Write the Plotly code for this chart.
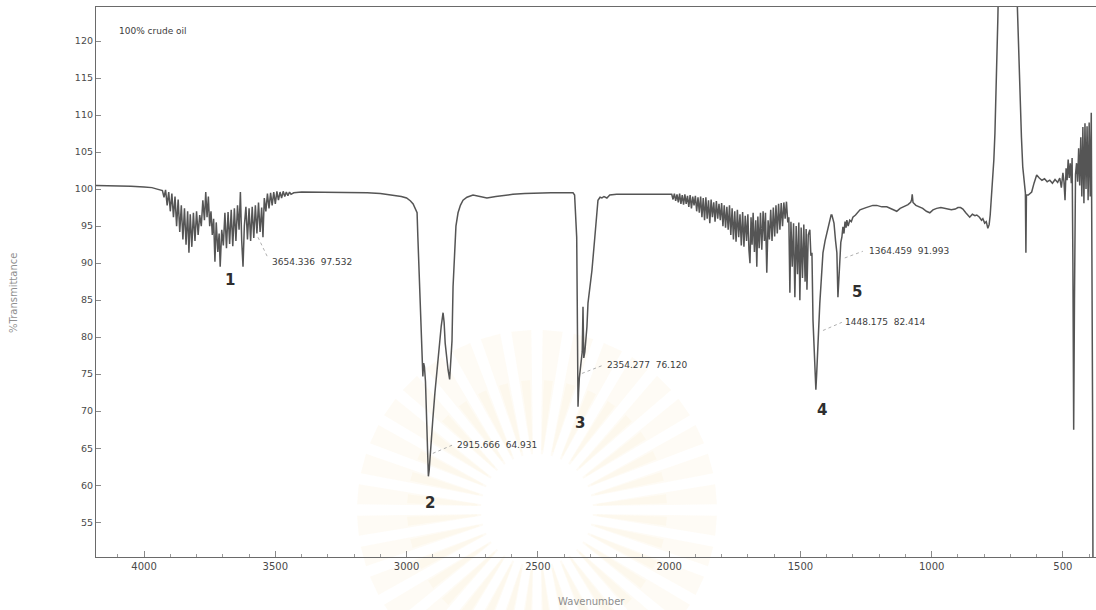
import math
import plotly.graph_objects as go

# ---------------- data (wavenumber, %T) ----------------
seg_baseline = [(4185, 100.5), (4150, 100.5), (4100, 100.4), (4050, 100.4), (4000, 100.3),
                (3970, 100.2), (3950, 100.0), (3936, 99.9)]

seg_water = [(3930, 99.8), (3924, 98.9), (3918, 99.9), (3912, 97.8), (3906, 99.6), (3900, 97.0),
             (3894, 99.4), (3888, 96.2), (3882, 99.0), (3876, 95.0), (3870, 98.6), (3864, 94.2),
             (3858, 97.8), (3852, 93.2), (3846, 97.4), (3840, 92.5), (3834, 97.0), (3829, 91.4),
             (3824, 96.6), (3818, 92.2), (3812, 96.8), (3806, 93.0), (3800, 97.0), (3794, 93.8),
             (3788, 96.5), (3782, 95.0), (3776, 98.5), (3770, 95.8), (3765, 99.6), (3760, 96.2),
             (3755, 99.0), (3750, 95.0), (3745, 97.0), (3740, 93.8), (3735, 96.0), (3730, 90.2),
             (3725, 95.5), (3719, 91.5), (3714, 94.0), (3710, 89.5), (3704, 94.5), (3698, 92.4),
             (3692, 96.8), (3686, 92.0), (3680, 96.9), (3674, 92.6), (3668, 97.2), (3662, 92.3),
             (3656, 97.4), (3650, 93.0), (3644, 97.8), (3638, 94.5), (3633, 99.6), (3628, 93.0),
             (3623, 89.5), (3618, 95.0), (3612, 97.6), (3606, 93.2), (3600, 97.4), (3594, 93.0),
             (3588, 97.6), (3582, 93.4), (3576, 97.8), (3570, 94.0), (3564, 98.2), (3558, 94.2),
             (3552, 97.5), (3547, 93.5), (3542, 98.8), (3536, 97.0), (3530, 99.4), (3524, 97.4),
             (3518, 99.5), (3512, 97.8), (3506, 99.6), (3500, 98.0), (3494, 99.7), (3488, 98.5),
             (3482, 99.6), (3476, 98.8), (3470, 99.7), (3464, 99.0), (3458, 99.6), (3452, 99.1),
             (3446, 99.6), (3440, 99.3)]

seg_ch = [(3430, 99.5), (3400, 99.6), (3350, 99.6), (3300, 99.6), (3250, 99.6), (3200, 99.5),
          (3150, 99.5), (3100, 99.4), (3050, 99.2), (3020, 99.0), (3000, 98.8), (2985, 98.4),
          (2975, 98.0), (2965, 97.2), (2960, 96.8), (2957, 93.5), (2953, 89.0), (2949, 84.6),
          (2945, 80.0), (2941, 76.0), (2938, 74.7), (2935, 76.5), (2932, 76.0), (2928, 74.0),
          (2924, 70.0), (2920, 64.5), (2917, 61.2), (2914, 62.0), (2911, 63.5), (2907, 66.5),
          (2900, 68.9), (2892, 72.5), (2884, 75.6), (2876, 79.0), (2868, 81.5), (2861, 83.3),
          (2857, 82.0), (2853, 79.2), (2847, 77.0), (2842, 75.6), (2836, 74.3), (2831, 76.5),
          (2827, 79.5), (2823, 86.8), (2818, 91.5), (2812, 95.0), (2804, 96.8), (2795, 97.8),
          (2785, 98.5), (2770, 98.9), (2747, 99.2), (2720, 99.0), (2694, 98.8), (2660, 99.0),
          (2620, 99.2), (2595, 99.3), (2550, 99.4), (2500, 99.5), (2450, 99.5), (2400, 99.5),
          (2370, 99.5)]

seg_co2 = [(2366, 99.5), (2360, 99.2), (2355, 96.5), (2352, 93.5), (2350, 85.0), (2348, 74.0),
           (2347, 70.6), (2345, 72.5), (2342, 74.5), (2339, 75.6), (2335, 76.5), (2331, 78.0),
           (2328, 84.1), (2325, 77.2), (2321, 78.0), (2317, 79.5), (2313, 81.4), (2309, 84.6),
           (2300, 87.5), (2294, 89.0), (2283, 93.5), (2277, 96.0), (2271, 98.5), (2263, 98.9),
           (2256, 98.8), (2248, 99.0), (2237, 98.8), (2226, 99.2), (2200, 99.3), (2150, 99.3),
           (2100, 99.3), (2050, 99.3), (2000, 99.2)]

seg_fingerprint = [(1990, 99.3), (1985, 98.6), (1980, 99.4), (1975, 98.4), (1970, 99.3), (1965, 98.2),
                   (1960, 99.4), (1955, 98.0), (1950, 99.2), (1945, 97.9), (1940, 99.3), (1935, 98.0),
                   (1930, 99.1), (1925, 97.6), (1920, 99.2), (1915, 97.4), (1910, 99.0), (1905, 97.8),
                   (1900, 99.1), (1895, 97.0), (1890, 98.9), (1885, 96.8), (1880, 99.0), (1875, 96.2),
                   (1870, 98.8), (1865, 95.8), (1860, 98.9), (1855, 96.0), (1850, 98.5), (1845, 95.4),
                   (1840, 98.6), (1835, 96.2), (1830, 98.2), (1825, 95.6), (1820, 98.4), (1815, 96.0),
                   (1810, 98.0), (1805, 95.8), (1800, 98.1), (1795, 95.0), (1790, 97.8), (1785, 94.8),
                   (1780, 97.6), (1775, 94.5), (1770, 97.8), (1765, 93.8), (1760, 97.4), (1755, 93.2),
                   (1750, 97.0), (1745, 92.9), (1740, 97.2), (1735, 93.5), (1730, 96.6), (1725, 92.4),
                   (1720, 96.9), (1715, 92.2), (1710, 96.4), (1705, 93.0), (1700, 96.6), (1696, 91.8),
                   (1692, 90.0), (1688, 96.2), (1684, 92.5), (1680, 96.8), (1675, 91.5), (1670, 95.8),
                   (1666, 89.5), (1662, 96.3), (1657, 92.0), (1652, 96.8), (1647, 91.8), (1642, 97.0),
                   (1637, 93.0), (1633, 96.8), (1628, 88.7), (1623, 95.8), (1618, 93.2), (1613, 97.2),
                   (1608, 93.0), (1603, 97.5), (1598, 93.6), (1593, 97.8), (1588, 94.0), (1583, 98.0),
                   (1578, 94.5), (1573, 98.1), (1568, 95.0), (1563, 98.2), (1558, 96.0), (1553, 98.3),
                   (1548, 95.5), (1544, 96.2), (1540, 86.0), (1536, 95.6), (1531, 89.5), (1526, 95.4),
                   (1521, 85.4), (1516, 95.0), (1511, 88.5), (1506, 95.5), (1502, 85.0), (1497, 94.8),
                   (1492, 88.0), (1487, 95.2), (1482, 87.5), (1478, 94.6), (1475, 86.4), (1470, 93.8),
                   (1464, 94.5), (1460, 91.0), (1456, 91.4), (1452, 82.3), (1447, 77.0), (1443, 73.5),
                   (1441, 72.9), (1438, 75.0), (1434, 79.0), (1430, 82.0), (1426, 84.6), (1420, 88.0),
                   (1414, 91.4), (1406, 93.0), (1399, 94.0), (1393, 95.0), (1388, 95.8), (1383, 96.5),
                   (1380, 96.5), (1375, 96.0), (1372, 95.4), (1366, 93.0), (1361, 91.4), (1357, 85.4),
                   (1353, 88.5), (1350, 90.8), (1346, 92.8), (1342, 93.5), (1338, 94.9), (1334, 94.0),
                   (1330, 95.6), (1326, 94.8), (1323, 95.8), (1318, 95.0), (1312, 95.8), (1306, 95.6),
                   (1300, 96.2), (1290, 96.5), (1273, 97.2), (1250, 97.5), (1224, 97.8)]

seg_lowwn = [(1209, 97.8), (1190, 97.6), (1171, 97.6), (1150, 97.3), (1133, 97.0), (1120, 97.4),
             (1105, 97.6), (1090, 97.9), (1080, 98.2), (1076, 98.6), (1074, 99.3), (1071, 98.2),
             (1060, 97.8), (1045, 97.6), (1034, 97.4), (1020, 97.0), (1007, 96.8), (995, 97.2),
             (981, 97.4), (965, 97.5), (950, 97.4), (942, 97.4), (925, 97.2), (910, 97.3),
             (900, 97.5), (890, 97.5), (881, 97.3), (870, 96.8), (860, 96.4), (855, 96.2),
             (845, 96.6), (835, 96.4), (828, 96.5), (818, 96.2), (810, 95.8), (805, 96.0),
             (798, 95.4), (792, 95.6), (786, 94.7), (781, 95.2), (777, 96.5), (772, 99.0),
             (767, 100.8), (763, 104.0), (759, 107.5), (755, 112.0), (752, 116.5), (748, 122.8),
             (744, 130.0), (700, 140.0), (680, 132.0), (672, 122.8), (668, 117.0), (664, 112.0),
             (658, 107.0), (653, 103.0), (648, 101.0), (645, 100.3), (643, 99.5), (641, 91.4),
             (639, 99.2), (632, 99.2), (625, 99.5), (619, 99.6), (610, 100.8), (600, 101.9),
             (590, 101.5), (580, 101.2), (570, 101.4), (560, 101.0), (550, 101.2), (540, 100.8),
             (530, 101.3), (520, 100.9), (512, 101.5), (506, 100.2), (500, 102.2), (496, 101.0),
             (492, 98.5), (488, 102.8), (484, 101.2), (480, 104.0), (476, 101.5), (472, 103.5),
             (468, 100.8), (465, 104.2), (462, 90.0), (459, 67.5), (456, 85.0), (452, 102.0),
             (448, 103.5), (444, 101.0), (440, 105.5), (436, 100.5), (432, 107.0), (428, 99.0),
             (424, 108.4), (420, 98.1), (416, 108.9), (412, 100.0), (408, 108.5), (404, 98.5),
             (400, 109.0), (396, 99.0), (392, 110.3), (389, 94.0), (387, 70.0), (385, 40.0)]

peak_numbers = ["1", "2", "3", "4", "5"]
peak_wn = [3654.336, 2915.666, 2354.277, 1448.175, 1364.459]
peak_T = [97.532, 64.931, 76.120, 82.414, 91.993]

x_tick_vals = [4000, 3500, 3000, 2500, 2000, 1500, 1000, 500]
y_tick_vals = [55, 60, 65, 70, 75, 80, 85, 90, 95, 100, 105, 110, 115, 120]

# ---------------- build figure ----------------
spectrum = seg_baseline + seg_water + seg_ch + seg_co2 + seg_fingerprint + seg_lowwn
wn = [p[0] for p in spectrum]
tr = [p[1] for p in spectrum]

LINE = "#555555"
TXT = "#3c3c3c"
FONT = "DejaVu Sans"

fig = go.Figure()
fig.add_trace(go.Scatter(x=wn, y=tr, mode="lines",
                         line=dict(color=LINE, width=1.5), hoverinfo="skip",
                         showlegend=False))

# plot geometry (pixels)
L, R, T, B = 96, 0, 7, 53
W, H = 1096, 610
pw, ph = W - L - R, H - T - B

def px_to_paper(x, y):
    return (x - L) / pw, (H - B - y) / ph

# very faint watermark rays (decoration behind the spectrum)
shapes = []
cx, cy = 537, 510
for k in range(36):
    a = math.radians(k * 10 + 5)
    for r0, r1, h0, h1, col in [(56, 180, 1.0, 3.2, "rgba(250,232,192,0.16)"),
                                (60, 130, 0.8, 2.0, "rgba(250,230,185,0.12)")]:
        hh0, hh1 = math.radians(h0), math.radians(h1)
        pts = [(cx + r0 * math.cos(a - hh0), cy - r0 * math.sin(a - hh0)),
               (cx + r1 * math.cos(a - hh1), cy - r1 * math.sin(a - hh1)),
               (cx + r1 * math.cos(a + hh1), cy - r1 * math.sin(a + hh1)),
               (cx + r0 * math.cos(a + hh0), cy - r0 * math.sin(a + hh0))]
        pp = [px_to_paper(x, y) for x, y in pts]
        path = "M " + " L ".join(f"{x:.4f},{y:.4f}" for x, y in pp) + " Z"
        shapes.append(dict(type="path", path=path, xref="paper", yref="paper",
                           fillcolor=col, line=dict(width=0), layer="below"))

# peak label layout: (number position), (leader start), (leader end), (text start)
num_pos = [(3673, 87.7), (2911, 57.6), (2340, 68.4), (1418, 70.1), (1285, 86.1)]
lead_start = [(3566, 93.5), (2900, 64.3), (2332, 75.1), (1414, 80.9), (1331, 90.7)]
lead_end = [(3528, 90.7), (2827, 65.4), (2252, 76.2), (1342, 82.0), (1262, 91.6)]
text_pos = [(3520, 90.1), (2816, 65.4), (2245, 76.2), (1338, 82.0), (1247, 91.6)]

annotations = []
for i in range(len(peak_numbers)):
    shapes.append(dict(type="line", xref="x", yref="y",
                       x0=lead_start[i][0], y0=lead_start[i][1],
                       x1=lead_end[i][0], y1=lead_end[i][1],
                       line=dict(color="#b0b0b0", width=1, dash="dot")))
    annotations.append(dict(x=text_pos[i][0], y=text_pos[i][1], xref="x", yref="y",
                            text=f"{peak_wn[i]:.3f}\u00a0\u00a0{peak_T[i]:.3f}",
                            showarrow=False, xanchor="left", yanchor="middle",
                            font=dict(family=FONT, size=9, color=TXT)))
    annotations.append(dict(x=num_pos[i][0], y=num_pos[i][1], xref="x", yref="y",
                            text=f"<b>{peak_numbers[i]}</b>", showarrow=False,
                            xanchor="center", yanchor="middle",
                            font=dict(family=FONT, size=15, color="#2e2e2e")))

tx, ty = px_to_paper(117, 31)
annotations.append(dict(x=tx, y=ty, xref="paper", yref="paper", text="100% crude oil",
                        showarrow=False, xanchor="left", yanchor="middle",
                        font=dict(family=FONT, size=9, color=TXT)))
tx, ty = px_to_paper(13, 293)
annotations.append(dict(x=tx, y=ty, xref="paper", yref="paper", text="%Transmittance",
                        showarrow=False, textangle=-90, xanchor="center", yanchor="middle",
                        font=dict(family=FONT, size=10, color="#8f8f8f")))
tx, ty = px_to_paper(591, 601)
annotations.append(dict(x=tx, y=ty, xref="paper", yref="paper", text="Wavenumber",
                        showarrow=False, xanchor="center", yanchor="middle",
                        font=dict(family=FONT, size=10, color="#8f8f8f")))

fig.update_layout(
    width=W, height=H,
    margin=dict(l=L, r=R, t=T, b=B),
    paper_bgcolor="white", plot_bgcolor="rgba(0,0,0,0)",
    shapes=shapes, annotations=annotations,
    font=dict(family=FONT, size=10, color="#555"),
    xaxis=dict(range=[4183, 374], tickvals=x_tick_vals,
               ticktext=[str(v) for v in x_tick_vals],
               ticks="inside", ticklen=6, tickcolor="#8a8a8a", tickwidth=1,
               minor=dict(dtick=100, ticks="inside", ticklen=3, tickcolor="#9a9a9a"),
               showline=True, linecolor="#6a6a6a", linewidth=1.2, mirror=True,
               showgrid=False, zeroline=False,
               tickfont=dict(family=FONT, size=10, color="#4a4a4a")),
    yaxis=dict(range=[50.3, 124.6], tickvals=y_tick_vals,
               ticks="inside", ticklen=5, tickcolor="#8a8a8a", tickwidth=1,
               showline=True, linecolor="#6a6a6a", linewidth=1.2, mirror=True,
               showgrid=False, zeroline=False,
               tickfont=dict(family=FONT, size=9.5, color="#4a4a4a")),
)

fig.write_html("out.html")
